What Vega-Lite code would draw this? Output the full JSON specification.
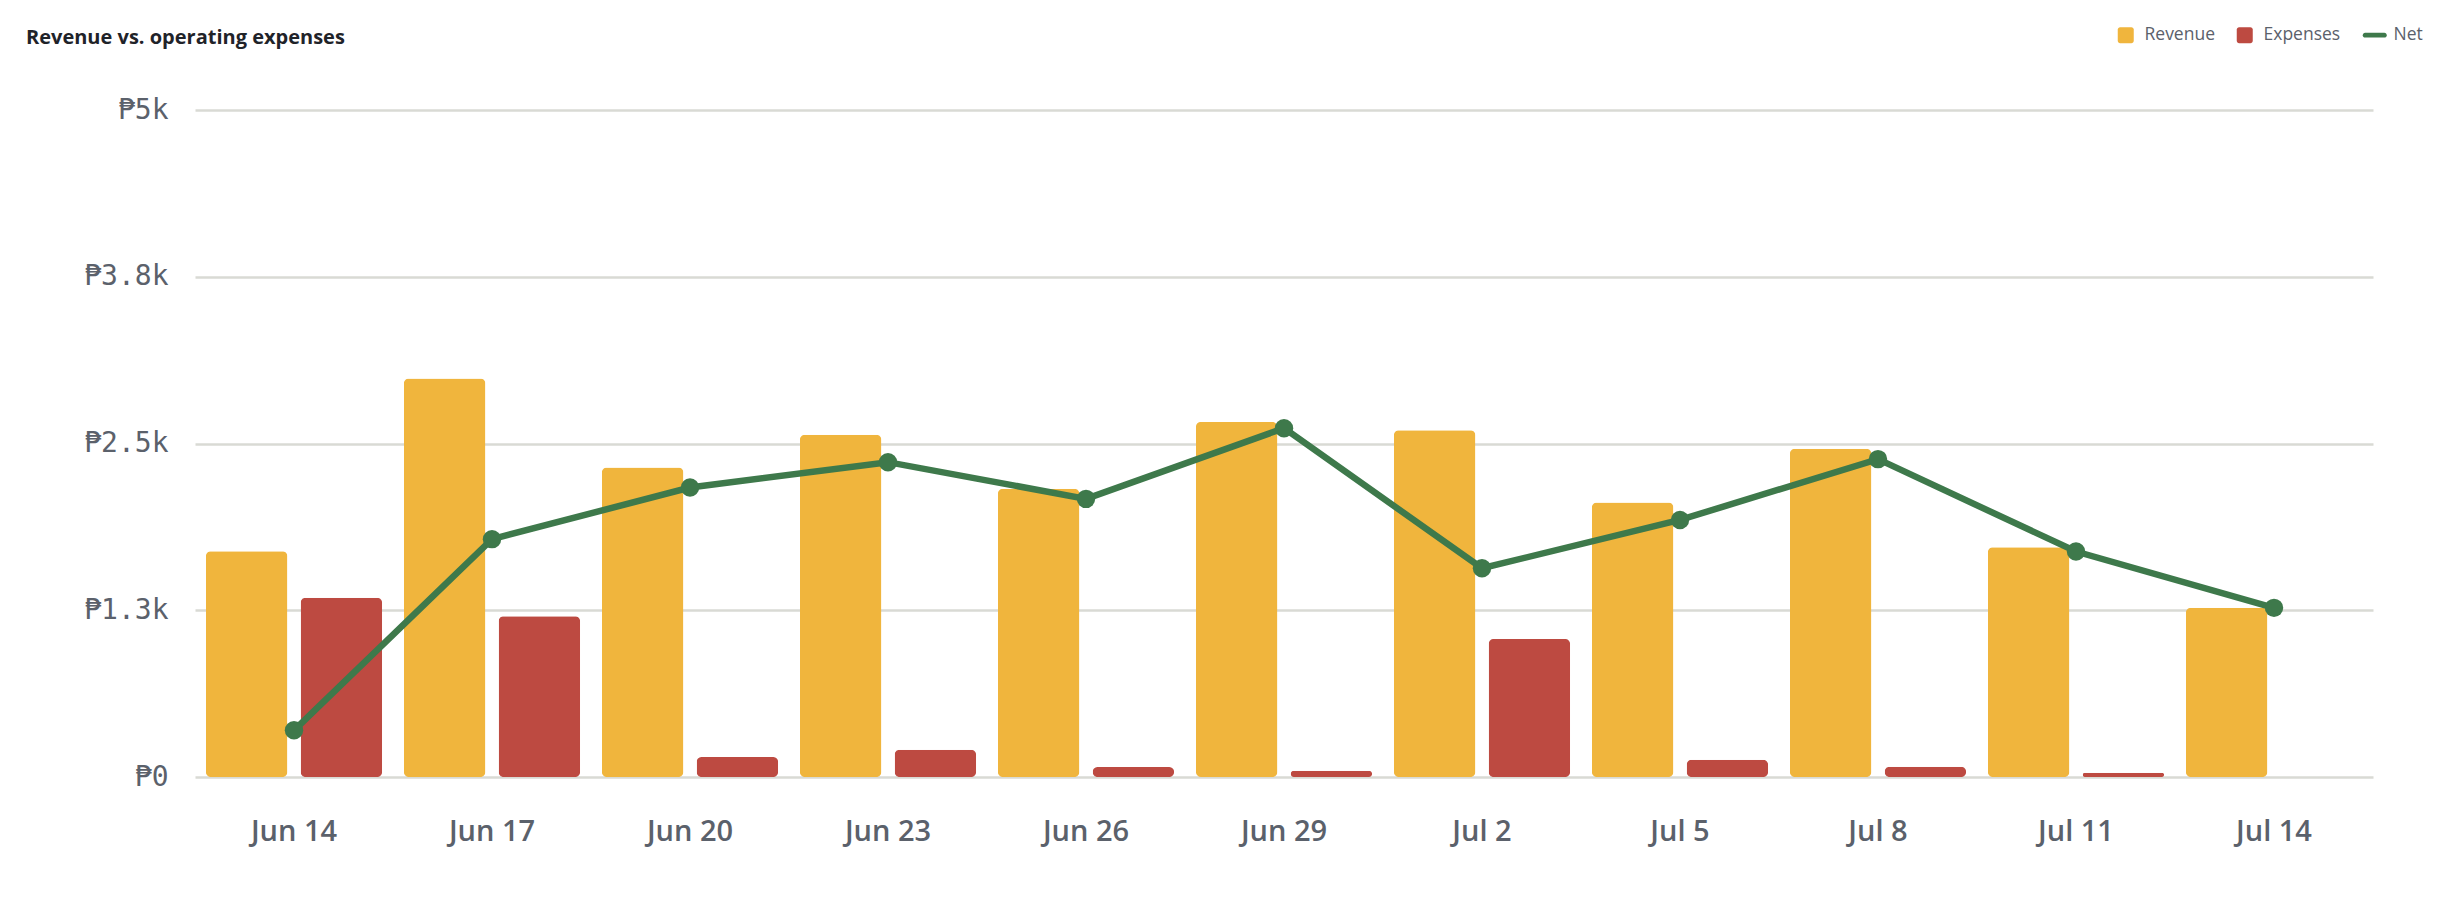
{
  "$schema": "https://vega.github.io/schema/vega-lite/v6.json",
  "autosize": {"type": "none"},
  "width": 2178,
  "height": 667,
  "padding": {"left": 195, "top": 110, "right": 64, "bottom": 126},
  "background": "#ffffff",
  "config": {"view": {"stroke": null}},
  "title": {
    "text": "Revenue vs. operating expenses",
    "anchor": "start",
    "frame": "group",
    "dx": -169,
    "dy": 42,
    "offset": 20,
    "font": "Open Sans",
    "fontSize": 20,
    "fontWeight": 700,
    "color": "#1f2329"
  },
  "data": {
    "values": [
      {"day": "Jun 14", "Revenue": 1693, "Expenses": 1343, "Net": 350},
      {"day": "Jun 17", "Revenue": 2988, "Expenses": 1205, "Net": 1783},
      {"day": "Jun 20", "Revenue": 2320, "Expenses": 150, "Net": 2170},
      {"day": "Jun 23", "Revenue": 2565, "Expenses": 205, "Net": 2360},
      {"day": "Jun 26", "Revenue": 2160, "Expenses": 75, "Net": 2085},
      {"day": "Jun 29", "Revenue": 2662, "Expenses": 47, "Net": 2615},
      {"day": "Jul 2", "Revenue": 2600, "Expenses": 1035, "Net": 1565},
      {"day": "Jul 5", "Revenue": 2057, "Expenses": 130, "Net": 1927},
      {"day": "Jul 8", "Revenue": 2460, "Expenses": 77, "Net": 2383},
      {"day": "Jul 11", "Revenue": 1722, "Expenses": 32, "Net": 1690},
      {"day": "Jul 14", "Revenue": 1268, "Expenses": 0, "Net": 1268}
    ]
  },
  "encoding": {
    "x": {
      "field": "day",
      "type": "ordinal",
      "sort": null,
      "scale": {"paddingInner": 0, "paddingOuter": 0},
      "axis": {
        "title": null,
        "labelAngle": 0,
        "domain": false,
        "ticks": false,
        "labelPadding": 40,
        "labelFont": "Open Sans",
        "labelFontSize": 29,
        "labelFontWeight": 600,
        "labelColor": "#5b616b"
      }
    }
  },
  "layer": [
    {
      "transform": [{"fold": ["Revenue", "Expenses"], "as": ["series", "amount"]}],
      "mark": {"type": "bar", "cornerRadius": 5},
      "encoding": {
        "xOffset": {
          "field": "series",
          "type": "nominal",
          "sort": ["Revenue", "Expenses"],
          "scale": {"domain": ["Revenue", "Expenses"], "paddingInner": 0.14, "paddingOuter": 0.115}
        },
        "y": {
          "field": "amount",
          "type": "quantitative",
          "scale": {"domain": [0, 5000], "nice": false},
          "axis": {
            "title": null,
            "values": [0, 1250, 2500, 3750, 5000],
            "labelExpr": "'₱' + format(datum.value, '.2~s')",
            "domain": false,
            "ticks": false,
            "labelPadding": 27,
            "labelFont": "DejaVu Sans Mono",
            "labelFontSize": 28,
            "labelColor": "#5b616b",
            "gridColor": "#d9dad4",
            "gridWidth": 2.5
          }
        },
        "color": {
          "field": "series",
          "type": "nominal",
          "scale": {
            "domain": ["Revenue", "Expenses", "Net"],
            "range": ["#f0b53d", "#bd4a41", "#3e794b"]
          },
          "legend": {
            "title": null,
            "orient": "none",
            "legendX": 1922,
            "legendY": -84,
            "direction": "horizontal",
            "columnPadding": 21,
            "labelOffset": 10,
            "symbolSize": 256,
            "labelFont": "Open Sans",
            "labelFontSize": 17.5,
            "labelFontWeight": 500,
            "labelColor": "#5b616b",
            "encode": {
              "symbols": {
                "update": {
                  "shape": {"signal": "datum.value === 'Net' ? 'M-1.2,-0.3H1.2A0.3,0.3,0,0,1,1.2,0.3H-1.2A0.3,0.3,0,0,1,-1.2,-0.3Z' : 'M-0.7,-1H0.7A0.3,0.3,0,0,1,1,-0.7V0.7A0.3,0.3,0,0,1,0.7,1H-0.7A0.3,0.3,0,0,1,-1,0.7V-0.7A0.3,0.3,0,0,1,-0.7,-1Z'"},
                  "fill": {"signal": "scale('color', datum.value)"},
                  "stroke": {"value": "transparent"},
                  "strokeWidth": {"value": 0},
                  "opacity": {"value": 1},
                  "fillOpacity": {"value": 1}
                }
              }
            }
          }
        }
      }
    },
    {
      "mark": {"type": "line", "strokeWidth": 6.5},
      "encoding": {
        "y": {"field": "Net", "type": "quantitative"},
        "color": {"datum": "Net"}
      }
    },
    {
      "mark": {"type": "point", "filled": true, "opacity": 1, "size": 340, "strokeWidth": 0},
      "encoding": {
        "y": {"field": "Net", "type": "quantitative"},
        "color": {"datum": "Net"}
      }
    }
  ]
}
